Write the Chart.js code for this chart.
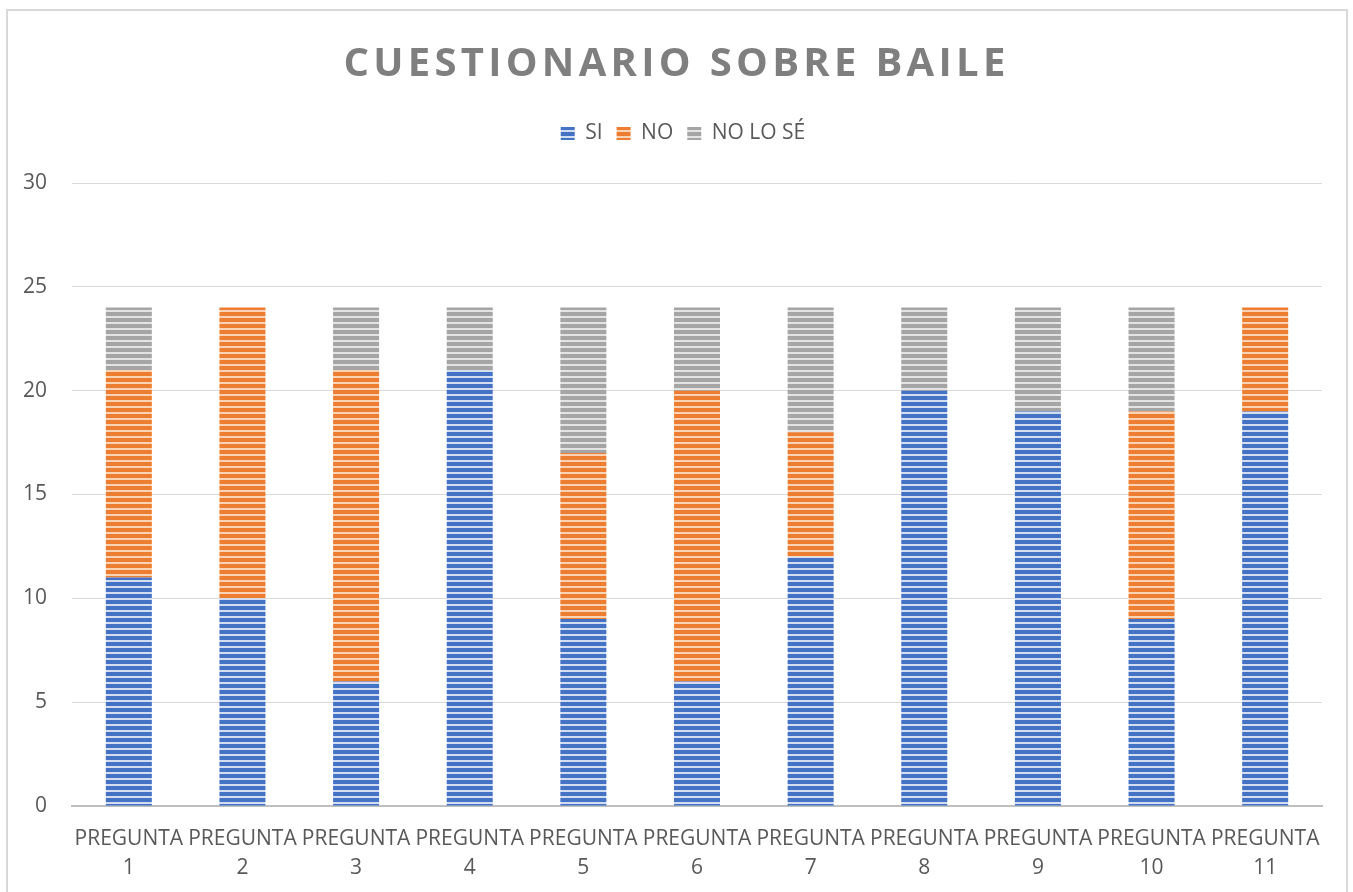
<!DOCTYPE html>
<html>
<head>
<meta charset="utf-8">
<script src="https://cdn.jsdelivr.net/npm/chart.js@4"></script>
<style>
  html, body { margin: 0; padding: 0; background: #fff; overflow: hidden; }
  #frame {
    position: absolute; left: 6px; top: 9px; width: 1342px; height: 900px;
    border: 2px solid #d9d9d9; box-sizing: border-box;
  }
  #title {
    position: absolute; left: 0; top: 35px; width: 1353px; text-align: center;
    font-family: "Open Sans", sans-serif; font-weight: bold; font-size: 40px;
    letter-spacing: 4.3px; color: #7f7f7f; line-height: 52px;
  }
  #wrap { position: absolute; left: 0; top: 0; width: 1353px; height: 892px; }
</style>
</head>
<body>
<div id="frame"></div>
<div id="wrap"><canvas id="chart" width="1353" height="892"></canvas></div>
<div id="title">CUESTIONARIO SOBRE BAILE</div>
<script>
// data
const categories = [
  ['PREGUNTA', '1'], ['PREGUNTA', '2'], ['PREGUNTA', '3'], ['PREGUNTA', '4'],
  ['PREGUNTA', '5'], ['PREGUNTA', '6'], ['PREGUNTA', '7'], ['PREGUNTA', '8'],
  ['PREGUNTA', '9'], ['PREGUNTA', '10'], ['PREGUNTA', '11']
];
const siValues = [11, 10, 6, 21, 9, 6, 12, 20, 19, 9, 19];
const noValues = [10, 14, 15, 0, 8, 14, 6, 0, 0, 10, 5];
const noSeValues = [3, 0, 3, 3, 7, 4, 6, 4, 5, 5, 0];
const yTicks = [0, 5, 10, 15, 20, 25, 30];

// horizontal stripe fill like the office chart
function stripes(color, light) {
  const c = document.createElement('canvas');
  c.width = 6; c.height = 6;
  const g = c.getContext('2d');
  g.fillStyle = color;
  g.fillRect(0, 0, 6, 6);
  g.fillStyle = light;
  g.fillRect(0, 4, 6, 2);
  return g.createPattern(c, 'repeat');
}

const font = '"Open Sans", sans-serif';

// extra room under the legend, and nudge it to the chart's centre
const legendGap = {
  id: 'legendGap',
  beforeInit(chart) {
    const fit = chart.legend.fit;
    chart.legend.fit = function () {
      fit.call(this);
      this.height += 29;
    };
  },
  afterLayout(chart) {
    chart.legend.left += 22;
    chart.legend.right += 22;
  }
};

const ctx = document.getElementById('chart').getContext('2d');
new Chart(ctx, {
  type: 'bar',
  data: {
    labels: categories,
    datasets: [
      { label: 'SI', data: siValues, backgroundColor: stripes('#4472c4', '#d3ddf1') },
      { label: 'NO', data: noValues, backgroundColor: stripes('#ed7d31', '#fad3b6') },
      { label: 'NO LO SÉ', data: noSeValues, backgroundColor: stripes('#a5a5a5', '#e3e3e3') }
    ]
  },
  options: {
    responsive: false,
    animation: false,
    layout: { padding: { top: 109, right: 31, bottom: 0, left: 0 } },
    datasets: { bar: { categoryPercentage: 1, barPercentage: 0.405, borderWidth: 0 } },
    plugins: {
      title: { display: false },
      tooltip: { enabled: false },
      legend: {
        position: 'top',
        labels: {
          color: '#595959',
          font: { family: font, size: 21 },
          boxWidth: 14, boxHeight: 13, padding: 14
        }
      }
    },
    scales: {
      x: {
        stacked: true,
        afterFit(scale) { scale.height = 86; },
        grid: { display: false },
        border: { color: '#bfbfbf', width: 2 },
        ticks: {
          color: '#595959', font: { family: font, size: 21, lineHeight: 1.4 },
          maxRotation: 0, minRotation: 0, autoSkip: false, padding: 10
        }
      },
      y: {
        stacked: true,
        min: 0, max: 30,
        afterFit(scale) { scale.width = 72; },
        afterBuildTicks(scale) { scale.ticks = yTicks.map(v => ({ value: v })); },
        grid: { color: '#d9d9d9', lineWidth: 1, drawTicks: false },
        border: { display: false },
        ticks: { color: '#595959', font: { family: font, size: 21 }, padding: 25 }
      }
    }
  },
  plugins: [legendGap]
});
</script>
</body>
</html>
